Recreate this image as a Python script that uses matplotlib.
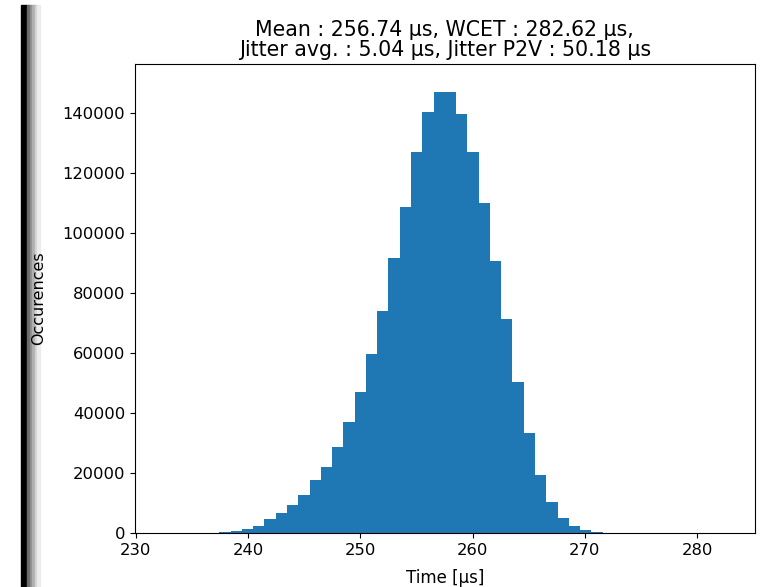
import matplotlib
matplotlib.use("Agg")
import matplotlib.pyplot as plt
import numpy as np
from matplotlib.patches import Rectangle

# execution time stats (µs)
mean_time = 256.74
wcet = 282.62
jitter_avg = 5.04
jitter_p2v = 50.18
n_bins = 50

# occurrences per bin
counts = [
    2, 5, 15, 40, 110, 280, 600, 1200, 2300, 4700,
    6600, 9300, 12700, 17700, 22100, 28800, 37000, 47100, 59700, 74100,
    91800, 108800, 127100, 140400, 146800, 147100, 139700, 127100, 109900, 90700,
    71200, 50400, 33200, 19300, 10400, 5100, 2300, 1000, 400, 150,
    60, 25, 10, 5, 3, 2, 1, 1, 0, 1,
]


def draw_border(fig):
    # dark window edge visible on the left of the screenshot
    fig.add_artist(Rectangle((0.027, 0), 0.008, 0.992, transform=fig.transFigure,
                             color="black", zorder=-1))
    shades = ["#6a6a6a", "#8c8c8c", "#b0b0b0", "#d2d2d2", "#ececec"]
    for i, c in enumerate(shades):
        fig.add_artist(Rectangle((0.035 + i * 0.0033, 0), 0.0033, 0.992,
                                 transform=fig.transFigure, color=c, zorder=-1))


def data_visualization():
    fig = plt.figure(figsize=(7.75, 5.87), dpi=100)
    ax = fig.add_axes([0.174, 0.092, 0.8, 0.799])

    edges = np.linspace(wcet - jitter_p2v, wcet, n_bins + 1)
    centers = (edges[:-1] + edges[1:]) / 2
    ax.hist(centers, bins=edges, weights=counts, color="#1f77b4")
    ax.set_ylim(0, 156300)

    ax.set_title(f"Mean : {mean_time:.2f} µs, WCET : {wcet:.2f} µs,\n"
                 f"Jitter avg. : {jitter_avg:.2f} µs, Jitter P2V : {jitter_p2v:.2f} µs",
                 fontsize=14.8, linespacing=1.0)
    ax.set_xlabel("Time [µs]", fontsize=12, labelpad=8)
    ax.set_ylabel("Occurences", fontsize=11.5)
    ax.yaxis.set_label_coords(-0.143, 0.5)
    ax.tick_params(labelsize=11.8)

    draw_border(fig)
    fig.savefig("out.png", dpi=100)


def main():
    data_visualization()


if __name__ == "__main__":
    main()
